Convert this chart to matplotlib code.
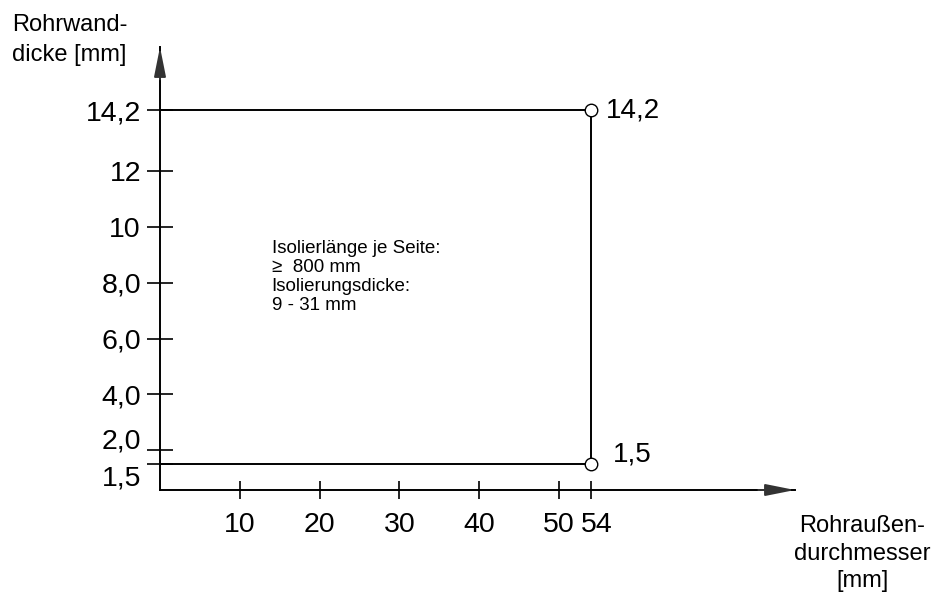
import matplotlib
matplotlib.use('Agg')
import matplotlib.pyplot as plt
import matplotlib.transforms as mtransforms

plt.rcParams['font.family'] = ['Liberation Sans', 'DejaVu Sans']

# data
x_ticks = [10, 20, 30, 40, 50, 54]
x_ticklabels = ['10', '20', '30', '40', '50', '54']
y_ticks = [1.5, 2.0, 4.0, 6.0, 8.0, 10, 12, 14.2]
y_ticklabels = ['1,5', '2,0', '4,0', '6,0', '8,0', '10', '12', '14,2']
d_max = 54          # Rohraussendurchmesser max
s_min = 1.5         # Wanddicke min
s_max = 14.2        # Wanddicke max
note = 'Isolierlänge je Seite:\n≥  800 mm\nIsolierungsdicke:\n9 - 31 mm'

fig = plt.figure(figsize=(9.33, 5.96), dpi=100)
ax = fig.add_axes([160 / 933, 106 / 596, 635 / 933, 443 / 596])
ax.set_xlim(0, 79.6)
ax.set_ylim(0.57, 16.46)

for side in ['top', 'right']:
    ax.spines[side].set_visible(False)
for side in ['left', 'bottom']:
    ax.spines[side].set_linewidth(1.4)

# range box
ax.plot([0, d_max], [s_max, s_max], color='black', lw=1.4)
ax.plot([0, d_max], [s_min, s_min], color='black', lw=1.4)
ax.plot([d_max, d_max], [s_min, s_max], color='black', lw=1.4)
ax.plot([d_max, d_max], [s_min, s_max], 'o', ms=9, mfc='white', mec='black', mew=1.0)

ax.annotate('14,2', (d_max, s_max), xytext=(11, 0), textcoords='offset points',
            fontsize=20, va='center', ha='left')
ax.annotate('1,5', (d_max, s_min), xytext=(16, 7), textcoords='offset points',
            fontsize=20, va='center', ha='left')

ax.text(14.0, 9.55, note, fontsize=13.5, va='top', ha='left', linespacing=1.17)

# ticks
ax.set_xticks(x_ticks)
ax.set_xticklabels(x_ticklabels)
ax.set_yticks(y_ticks)
ax.set_yticklabels(y_ticklabels)
ax.tick_params(axis='y', direction='inout', length=19.4, width=1.2, labelsize=20.5, pad=4)
ax.tick_params(axis='x', direction='inout', length=13, width=1.2, labelsize=20.5, pad=9)

# shift the crowded labels apart
lbls = ax.get_yticklabels()
lbls[0].set_transform(lbls[0].get_transform() + mtransforms.ScaledTranslation(0, -0.11, fig.dpi_scale_trans))
lbls[1].set_transform(lbls[1].get_transform() + mtransforms.ScaledTranslation(0, 0.12, fig.dpi_scale_trans))
xl = ax.get_xticklabels()
xl[-1].set_transform(xl[-1].get_transform() + mtransforms.ScaledTranslation(0.06, 0, fig.dpi_scale_trans))

# arrow heads
ax.annotate('', xy=(79.6, 0.57), xytext=(75.0, 0.57),
            arrowprops=dict(arrowstyle='-|>,head_length=1.8,head_width=0.36', mutation_scale=10,
                            lw=1.4, color='#333333', shrinkA=0, shrinkB=0),
            annotation_clip=False)
ax.annotate('', xy=(0, 16.46), xytext=(0, 15.3),
            arrowprops=dict(arrowstyle='-|>,head_length=1.8,head_width=0.36', mutation_scale=10,
                            lw=1.4, color='#333333', shrinkA=0, shrinkB=0),
            annotation_clip=False)

# axis titles
fig.text(12 / 933, 1 - 14 / 596, 'Rohrwand-\ndicke [mm]', fontsize=17, ha='left', va='top',
         linespacing=1.5)
fig.text(862 / 933, 1 - 515 / 596, 'Rohraußen-\ndurchmesser\n[mm]', fontsize=17, ha='center',
         va='top', linespacing=1.33, multialignment='center')

fig.savefig('out.png', dpi=100)
